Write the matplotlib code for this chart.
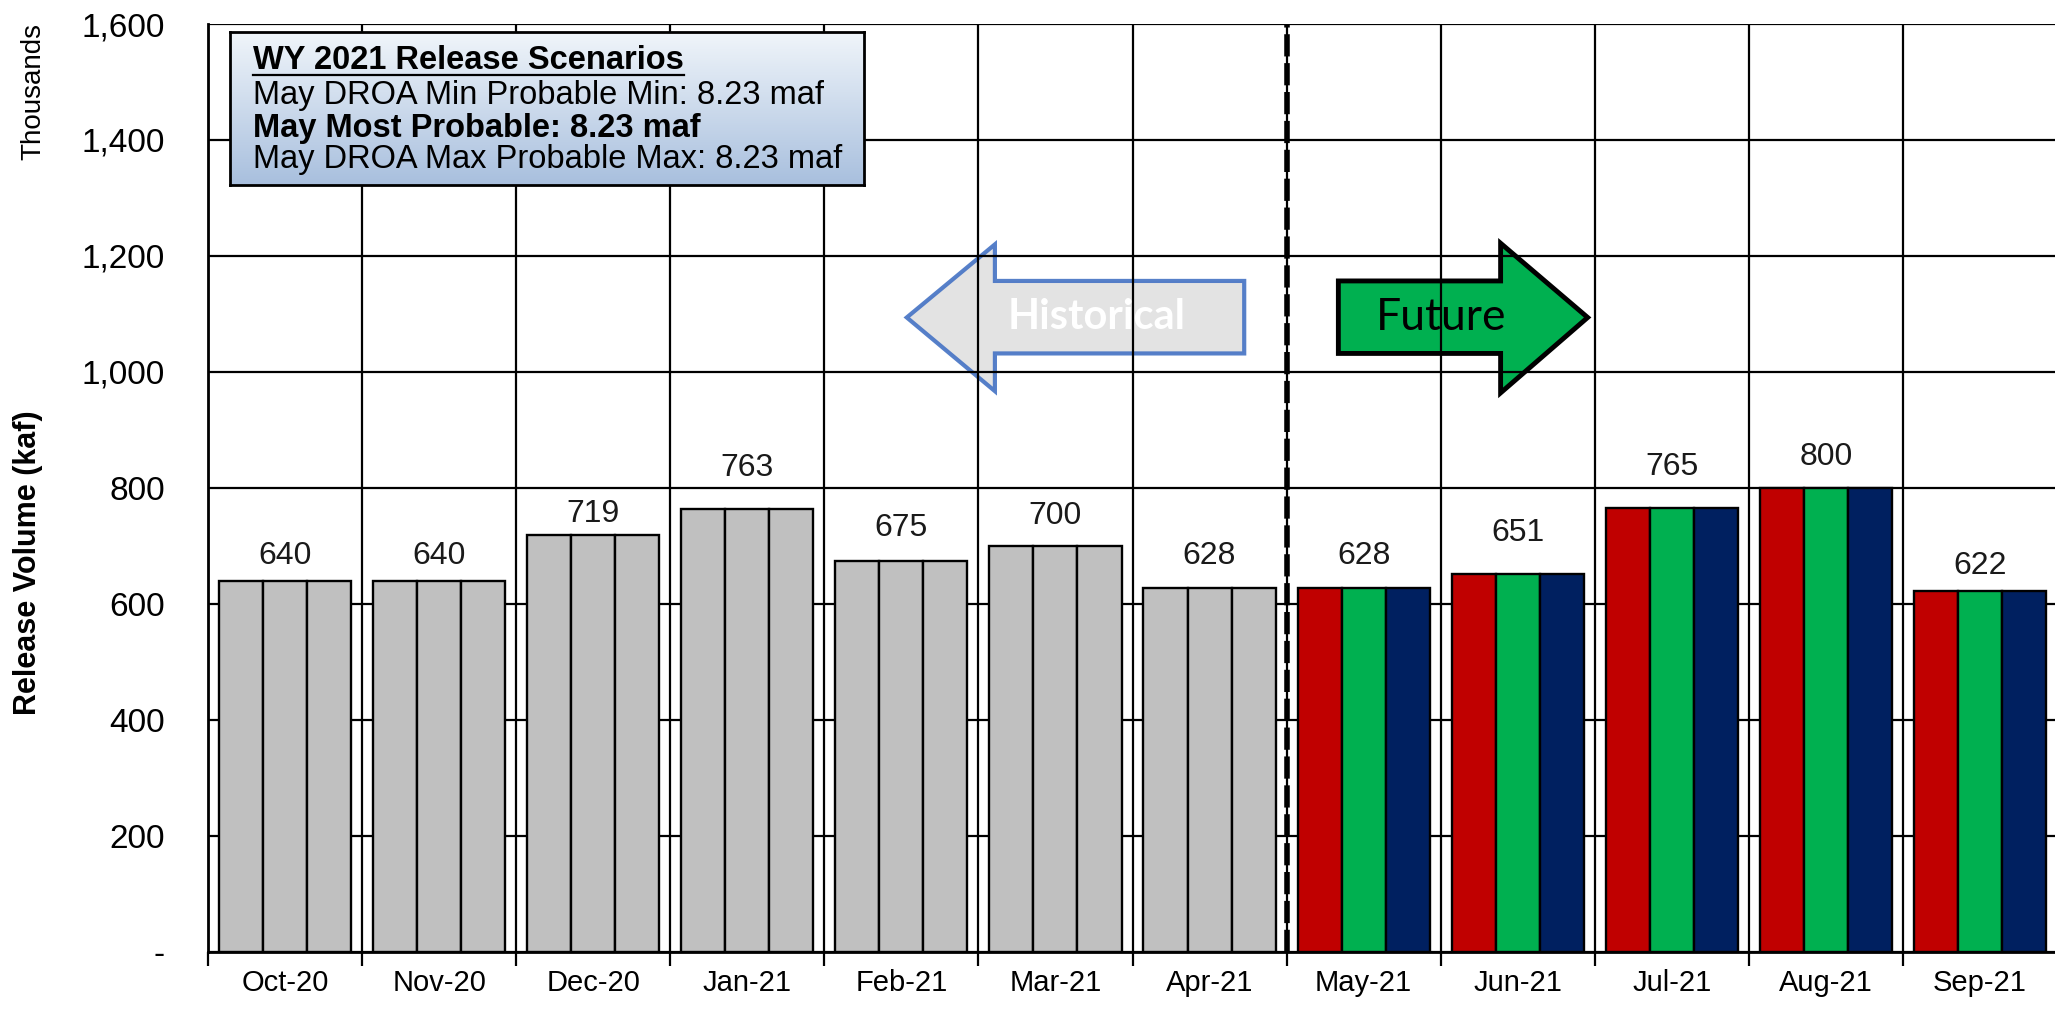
import matplotlib.pyplot as plt
import numpy as np
from matplotlib.patches import Polygon

# monthly release volumes (kaf) for the three WY 2021 scenarios
months = ['Oct-20', 'Nov-20', 'Dec-20', 'Jan-21', 'Feb-21', 'Mar-21', 'Apr-21',
          'May-21', 'Jun-21', 'Jul-21', 'Aug-21', 'Sep-21']
release_min = [640, 640, 719, 763, 675, 700, 628, 628, 651, 765, 800, 622]
release_most = [640, 640, 719, 763, 675, 700, 628, 628, 651, 765, 800, 622]
release_max = [640, 640, 719, 763, 675, 700, 628, 628, 651, 765, 800, 622]
n_historical = 7

legend_title = 'WY 2021 Release Scenarios'
legend_lines = ['May DROA Min Probable Min: 8.23 maf',
                'May Most Probable: 8.23 maf',
                'May DROA Max Probable Max: 8.23 maf']

# the labels in the original sit at uneven heights above the bars (px)
label_gap = [28, 28, 24, 45, 36, 33, 35, 35, 45, 45, 34, 29]

plt.rcParams['font.family'] = ['Liberation Sans', 'DejaVu Sans']
W, H = 2055, 1009

fig = plt.figure(figsize=(W / 100, H / 100), dpi=100)
ax = fig.add_axes([208 / W, (H - 952) / H, 1849 / W, 928 / H])

x = np.arange(len(months))
w = 0.286
scen_colors = ['#C00000', '#00B050', '#002060']
for k, vals in enumerate([release_min, release_most, release_max]):
    cols = ['#C0C0C0' if i < n_historical else scen_colors[k] for i in range(len(months))]
    ax.bar(x + (k - 1) * w, vals, w, color=cols, edgecolor='black', linewidth=1.7, zorder=2)

for i, v in enumerate(release_most):
    off = (label_gap[i] - 11.4) / 1.389
    ax.annotate(str(v), (x[i], v), xytext=(0, off), textcoords='offset points',
                ha='center', va='baseline', fontsize=23, color='#1a1a1a')

ax.set_xlim(-0.5, len(months) - 0.5)
ax.set_ylim(0, 1600)
ax.set_yticks(np.arange(0, 1601, 200))
ax.set_yticklabels(['-'] + [f'{v:,}' for v in range(200, 1601, 200)], fontsize=24)
ax.tick_params(axis='y', length=0, pad=31)

ax.set_xticks(np.arange(-0.5, len(months)), minor=False)
ax.set_xticklabels([])
ax.set_xticks(x, minor=True)
ax.set_xticklabels(months, minor=True, fontsize=21)
ax.tick_params(axis='x', which='major', length=10, width=1.6, direction='out')
ax.tick_params(axis='x', which='minor', length=0, pad=12)

ax.set_axisbelow(True)
ax.grid(True, which='major', color='black', linewidth=1.6)
for s in ['top', 'right']:
    ax.spines[s].set_visible(False)
for s in ['left', 'bottom']:
    ax.spines[s].set_linewidth(2)

ax.set_ylabel('Release Volume (kaf)', fontsize=22, fontweight='bold')
ax.yaxis.set_label_coords(-0.089, 0.419)
fig.text(33 / W, 1 - 92 / H, 'Thousands', rotation=90, ha='center', va='center', fontsize=20)

# historical / future divider
ax.axvline(n_historical - 0.5, color='black', linewidth=4, linestyle=(0, (4, 1.2)), zorder=3)

# arrows
hist = Polygon([(4.035, 1094), (4.607, 1220), (4.607, 1157), (6.225, 1157),
                (6.225, 1032), (4.607, 1032), (4.607, 967)], closed=True,
               facecolor='#E0E0E0', edgecolor='#4472C4', linewidth=3, alpha=0.9, zorder=0.3)
ax.add_patch(hist)
ax.text(5.27, 1094, 'Historical', ha='center', va='center', fontsize=30, color='white',
        fontweight='bold', family=['Lato', 'DejaVu Sans'], zorder=4)
fut = Polygon([(6.836, 1157), (7.889, 1157), (7.889, 1222), (8.454, 1094),
               (7.889, 964), (7.889, 1032), (6.836, 1032)], closed=True,
              facecolor='#00B050', edgecolor='black', linewidth=3.5, zorder=0.3)
ax.add_patch(fut)
ax.text(7.50, 1094, 'Future', ha='center', va='center', fontsize=32, color='black',
        family=['Lato', 'DejaVu Sans'], zorder=4)

# scenario text box with gradient
bax = fig.add_axes([230 / W, 1 - 185 / H, 634 / W, 153 / H])
grad = np.linspace(0, 1, 100).reshape(-1, 1)
top = np.array([0.94, 0.96, 0.98])
bot = np.array([0.66, 0.75, 0.87])
img = top + grad[..., None] * (bot - top)
bax.imshow(img, aspect='auto', extent=[0, 1, 0, 1])
bax.set_xlim(0, 1)
bax.set_ylim(0, 1)
bax.set_xticks([])
bax.set_yticks([])
for s in bax.spines.values():
    s.set_linewidth(2)
t = bax.text(0.036, 0.755, legend_title, fontsize=23.5, fontweight='bold', va='baseline')
baselines = [0.528, 0.314, 0.108]
for j, line in enumerate(legend_lines):
    bax.text(0.036, baselines[j], line, fontsize=23.5, va='baseline',
             fontweight='bold' if j == 1 else 'normal')
fig.canvas.draw()
bb = t.get_window_extent().transformed(bax.transAxes.inverted())
bax.plot([bb.x0, bb.x1], [0.722, 0.722], color='black', linewidth=1.6)

fig.savefig('out.png', dpi=100)
